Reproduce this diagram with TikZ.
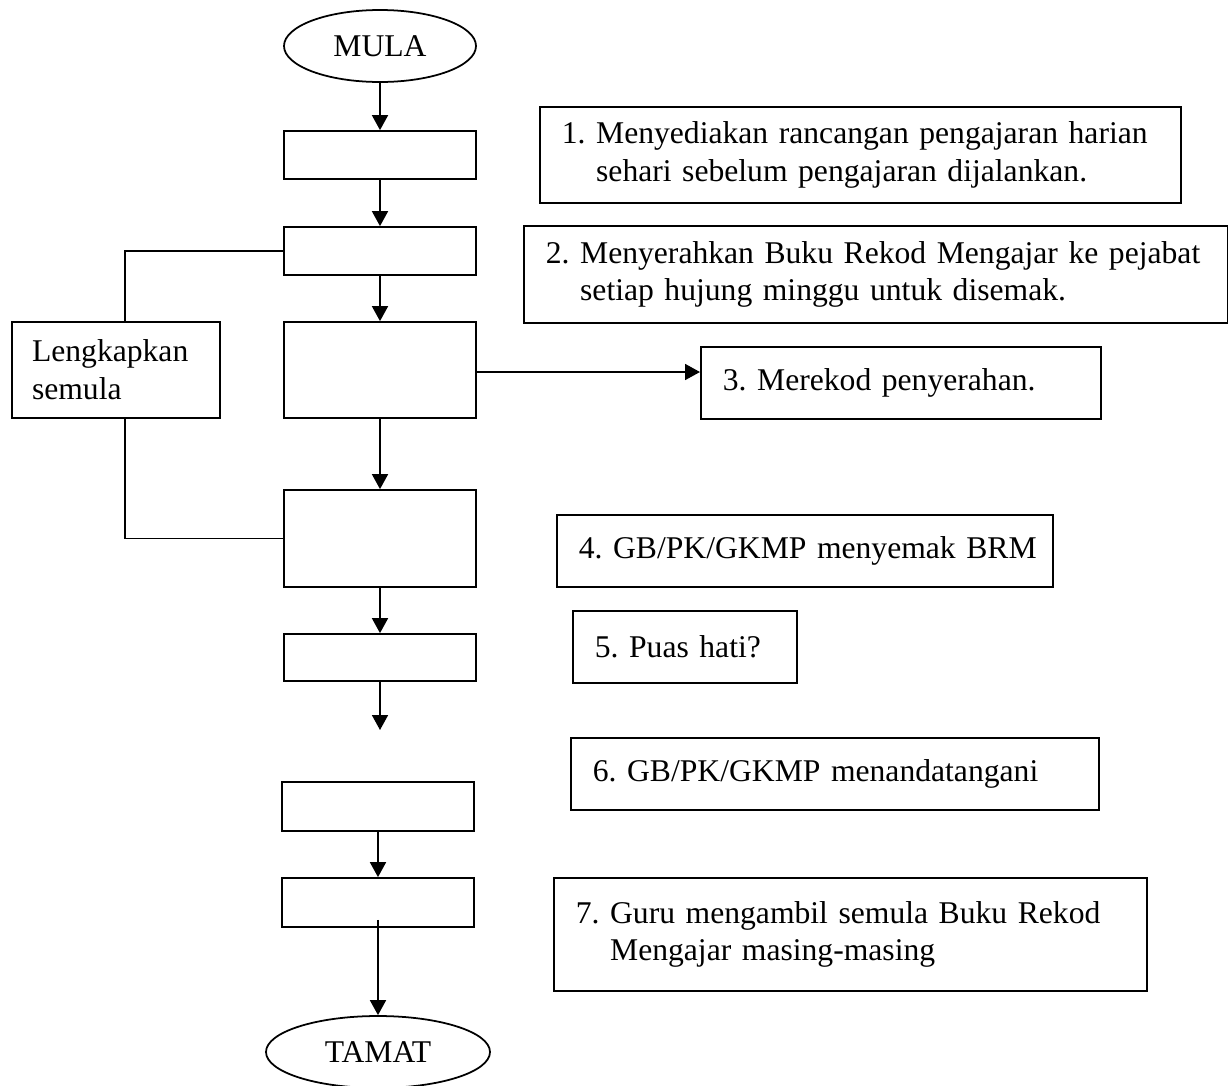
\documentclass[tikz,border=0pt]{standalone}
\usepackage{fontspec}
\setmainfont{Liberation Serif}
\usetikzlibrary{shapes.geometric,arrows.meta}

\tikzset{
  every node/.style={font=\fontsize{18}{21.5}\selectfont\frenchspacing, line width=1pt},
  line/.style={line width=1pt},
  flow/.style={line width=1pt, -{Triangle[length=0.3cm,width=0.32cm]}},
  terminal/.style={draw, ellipse, inner sep=0pt},
  stepbox/.style={draw, rectangle, minimum width=3.84cm, inner sep=0pt},
  note/.style={draw, rectangle, anchor=west, align=left, inner xsep=0.44cm, inner ysep=0pt}
}

\begin{document}
\begin{tikzpicture}
                            \useasboundingbox (0,0) rectangle (24.56,-21.7);
                            % Flow column:
                            \node[terminal, minimum width=3.84cm, minimum height=1.44cm] (mula) at (7.6, -0.92) {MULA};
                            \node[stepbox, minimum height=0.96cm] (b1) at (7.6, -3.1) {};
                            \node[stepbox, minimum height=0.96cm] (b2) at (7.6, -5.02) {};
                            \node[stepbox, minimum height=1.92cm] (b3) at (7.6, -7.4) {};
                            \node[stepbox, minimum height=1.94cm] (b4) at (7.6, -10.77) {};
                            \node[stepbox, minimum height=0.94cm] (b5) at (7.6, -13.15) {};
                            \coordinate (gap) at (7.6, -14.6);
                            \node[stepbox, minimum height=0.98cm] (b6) at (7.56, -16.13) {};
                            \node[stepbox, minimum height=0.98cm] (b7) at (7.56, -18.05) {};
                            \node[terminal, minimum width=4.48cm, minimum height=1.44cm] (tamat) at (7.56, -21.04) {TAMAT};
                            \node[draw, rectangle, minimum width=4.16cm, minimum height=1.92cm, text width=3.36cm, align=left, inner xsep=0.4cm] (lk) at (2.32, -7.4) {Lengkapkan\\semula};
                            % Notes:
                            \node[note, text width=11.94cm, minimum height=1.92cm] (r1) at (10.78, -3.1) {\begin{tabular}{@{}l@{ }l@{}}1. & Menyediakan rancangan pengajaran harian\\ & sehari sebelum pengajaran dijalankan.\end{tabular}};
                            \node[note, text width=13.2cm, minimum height=1.94cm] (r2) at (10.46, -5.49) {\begin{tabular}{@{}l@{ }l@{}}2. & Menyerahkan Buku Rekod Mengajar ke pejabat\\ & setiap hujung minggu untuk disemak.\end{tabular}};
                            \node[note, text width=7.12cm, minimum height=1.44cm] (r3) at (14.0, -7.66) {\mbox{3. Merekod penyerahan.}};
                            \node[note, text width=9.04cm, minimum height=1.44cm] (r4) at (11.12, -11.02) {\mbox{4. GB/PK/GKMP menyemak BRM}};
                            \node[note, text width=3.6cm, minimum height=1.44cm] (r5) at (11.44, -12.94) {\mbox{5. Puas hati?}};
                            \node[note, text width=9.68cm, minimum height=1.44cm] (r6) at (11.4, -15.48) {\mbox{6. GB/PK/GKMP menandatangani}};
                            \node[note, text width=10.98cm, minimum height=2.26cm] (r7) at (11.06, -18.69) {\begin{tabular}{@{}l@{ }l@{}}7. & Guru mengambil semula Buku Rekod\\ & Mengajar masing-masing\end{tabular}};
                            % Wires:
                            \draw[flow] (mula) -- (b1);
                            \draw[flow] (b1) -- (b2);
                            \draw[flow] (b2) -- (b3);
                            \draw[flow] (b3) -- (b4);
                            \draw[flow] (b4) -- (b5);
                            \draw[flow] (b5.south) -- (gap);
                            \draw[flow] (b6) -- (b7);
                            \draw[flow] ([yshift=0.16cm]b7.south) -- (tamat.north);
                            \draw[flow] ([yshift=-0.04cm]b3.east) -- ([yshift=-0.04cm]b3.east -| r3.west);
                            \draw[line] (b2.west) -| ([xshift=0.18cm]lk.north);
                            \draw[line] ([xshift=0.18cm]lk.south) |- (b4.west);
                        \end{tikzpicture}
\end{document}
